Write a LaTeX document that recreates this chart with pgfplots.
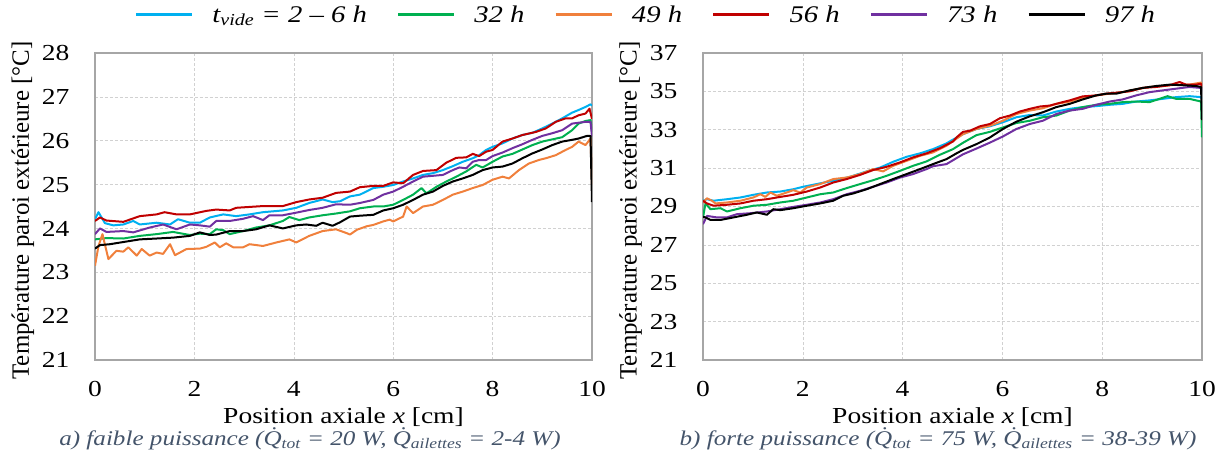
\documentclass[border=0pt]{standalone}
\usepackage{pgfplots}
\pgfplotsset{compat=1.18}
\usepackage{fontspec}
\setmainfont{Liberation Serif}
\newfontfamily\hfont{Liberation Serif}[FakeStretch=1.2]
\definecolor{cblue}{HTML}{00B0F0}
\definecolor{cgreen}{HTML}{00B050}
\definecolor{corange}{HTML}{F0803C}
\definecolor{cred}{HTML}{C00000}
\definecolor{cpurple}{HTML}{7030A0}
\definecolor{capt}{HTML}{44546A}
\definecolor{frame}{HTML}{A6A6A6}
\begin{document}
\begin{tikzpicture}
\useasboundingbox (0,0) rectangle (1221bp,463bp);
\pgfplotsset{
 myax/.style={
  scale only axis, height=307bp,
  xmin=0, xmax=10, xtick={0,2,...,10},
  grid=major, grid style={densely dashed, color=black!18, line width=0.6bp},
  axis line style={color=frame, line width=1.6bp},
  major tick length=0pt,
  tick label style={font=\hfont\fontsize{23}{26}\selectfont},
  /pgf/number format/assume math mode=true,
  xticklabel style={yshift=-18bp},
  yticklabel style={xshift=-22bp},
  xlabel={Position axiale \textit{x} [cm]},
  ylabel={Température paroi extérieure [°C]},
  xlabel style={font=\hfont\fontsize{23}{26}\selectfont, at={(axis description cs:0.5,0)}, anchor=center, yshift=-57bp},
  ylabel style={font=\fontsize{25}{28}\selectfont, at={(axis description cs:-0.145,0.487)}, anchor=center},
  every axis plot/.append style={line width=2bp, line join=round, mark=none},
 }
}
% ---------------- left panel ----------------
\begin{axis}[myax, width=497bp, at={(95bp,103bp)}, anchor=south west,
  ymin=21, ymax=28, ytick={21,22,...,28},
  legend columns=6,
  legend image code/.code={\draw[#1, line width=2.4bp] (0bp,0bp) -- (56bp,0bp);},
  legend style={at={(axis description cs:1.1066,1.125)}, anchor=center,
    draw=none, fill=none, inner sep=0pt,
    font=\hfont\fontsize{24}{28}\selectfont\itshape,
    nodes={inner sep=0pt},
    /tikz/every odd column/.append style={column sep=19bp},
    /tikz/every even column/.append style={column sep=30bp}},
]
\addplot[cblue] coordinates {(0,24.21)(0.07,24.37)(0.2,24.12)(0.37,24.07)(0.57,24.09)(0.77,24.17)(0.9,24.09)(1.24,24.13)(1.51,24.09)(1.67,24.21)(1.91,24.13)(2.11,24.13)(2.31,24.25)(2.58,24.32)(2.84,24.28)(3.11,24.32)(3.38,24.37)(3.78,24.41)(4.05,24.47)(4.31,24.58)(4.58,24.66)(4.78,24.60)(4.93,24.62)(5.13,24.73)(5.33,24.77)(5.6,24.92)(5.8,24.95)(6.0,24.99)(6.2,25.07)(6.4,25.14)(6.6,25.22)(6.8,25.26)(7.0,25.33)(7.2,25.42)(7.4,25.52)(7.6,25.60)(7.73,25.67)(7.87,25.79)(8.0,25.86)(8.2,25.94)(8.4,26.05)(8.6,26.13)(8.8,26.18)(9.0,26.28)(9.2,26.39)(9.4,26.51)(9.6,26.64)(9.73,26.70)(9.87,26.77)(9.97,26.83)(10,26.8)};
\addlegendentry{t\textsubscript{vide} = 2 – 6 h}
\addplot[cgreen] coordinates {(0,23.75)(0.23,23.78)(0.57,23.77)(0.90,23.83)(1.24,23.87)(1.57,23.92)(1.91,23.85)(2.11,23.88)(2.31,23.87)(2.44,23.98)(2.58,23.96)(2.71,23.87)(2.98,23.94)(3.24,24.02)(3.51,24.07)(3.78,24.17)(3.91,24.26)(4.11,24.19)(4.31,24.25)(4.58,24.30)(4.85,24.34)(5.13,24.39)(5.33,24.46)(5.6,24.50)(5.8,24.50)(6.0,24.54)(6.2,24.65)(6.4,24.77)(6.57,24.92)(6.67,24.80)(6.87,24.95)(7.07,25.07)(7.27,25.18)(7.47,25.30)(7.67,25.45)(7.8,25.39)(8.0,25.52)(8.2,25.64)(8.4,25.70)(8.6,25.80)(8.8,25.90)(9.0,25.98)(9.2,26.03)(9.4,26.08)(9.6,26.24)(9.73,26.39)(9.87,26.45)(9.97,26.47)(10,26.2)};
\addlegendentry{32 h}
\addplot[corange] coordinates {(0,23.15)(0.07,23.60)(0.15,23.87)(0.27,23.30)(0.43,23.49)(0.57,23.47)(0.67,23.57)(0.84,23.38)(0.94,23.53)(1.10,23.38)(1.24,23.45)(1.37,23.42)(1.51,23.64)(1.61,23.39)(1.84,23.53)(2.11,23.54)(2.24,23.58)(2.41,23.68)(2.51,23.57)(2.64,23.66)(2.78,23.57)(2.98,23.57)(3.11,23.64)(3.38,23.60)(3.65,23.68)(3.91,23.75)(4.05,23.68)(4.31,23.83)(4.58,23.94)(4.85,23.98)(5.07,23.89)(5.13,23.86)(5.27,23.97)(5.47,24.05)(5.6,24.08)(5.8,24.16)(5.93,24.20)(6.0,24.16)(6.2,24.27)(6.27,24.50)(6.4,24.35)(6.6,24.50)(6.8,24.54)(7.0,24.65)(7.2,24.77)(7.4,24.84)(7.6,24.92)(7.8,24.99)(8.0,25.11)(8.2,25.18)(8.33,25.14)(8.53,25.33)(8.73,25.48)(8.93,25.56)(9.07,25.60)(9.27,25.67)(9.47,25.79)(9.6,25.86)(9.73,25.98)(9.87,25.90)(9.97,26.05)(10,25.0)};
\addlegendentry{49 h}
\addplot[cred] coordinates {(0,24.17)(0.1,24.25)(0.23,24.18)(0.57,24.15)(0.9,24.28)(1.24,24.32)(1.4,24.37)(1.64,24.32)(1.91,24.32)(2.24,24.40)(2.44,24.43)(2.71,24.41)(2.84,24.47)(3.38,24.51)(3.78,24.51)(4.05,24.60)(4.31,24.66)(4.58,24.70)(4.85,24.81)(5.13,24.84)(5.33,24.94)(5.6,24.97)(5.8,24.97)(6.0,25.05)(6.2,25.03)(6.4,25.22)(6.6,25.31)(6.87,25.33)(7.07,25.5)(7.27,25.61)(7.47,25.62)(7.6,25.70)(7.73,25.65)(7.87,25.75)(8.0,25.79)(8.2,25.98)(8.4,26.05)(8.6,26.13)(8.87,26.20)(9.07,26.28)(9.27,26.43)(9.47,26.51)(9.6,26.51)(9.73,26.58)(9.87,26.62)(9.95,26.73)(10,26.5)};
\addlegendentry{56 h}
\addplot[cpurple] coordinates {(0,23.87)(0.1,24.0)(0.23,23.92)(0.57,23.94)(0.77,23.91)(1.10,24.02)(1.37,24.09)(1.64,23.98)(1.91,24.09)(2.11,24.07)(2.31,24.04)(2.44,24.17)(2.71,24.17)(2.98,24.22)(3.18,24.28)(3.38,24.19)(3.51,24.30)(3.78,24.30)(4.05,24.36)(4.31,24.42)(4.58,24.47)(4.85,24.55)(5.13,24.54)(5.33,24.58)(5.6,24.65)(5.8,24.77)(6.0,24.84)(6.2,24.95)(6.4,25.07)(6.6,25.18)(6.8,25.20)(7.0,25.22)(7.2,25.33)(7.33,25.39)(7.47,25.37)(7.6,25.52)(7.73,25.56)(7.87,25.56)(8.0,25.65)(8.2,25.73)(8.4,25.83)(8.6,25.92)(8.8,26.02)(9.0,26.11)(9.2,26.17)(9.4,26.24)(9.6,26.39)(9.73,26.41)(9.87,26.43)(9.97,26.43)(10,26.1)};
\addlegendentry{73 h}
\addplot[black] coordinates {(0,23.54)(0.1,23.62)(0.3,23.64)(0.57,23.69)(0.90,23.75)(1.24,23.77)(1.57,23.79)(1.91,23.83)(2.11,23.91)(2.31,23.85)(2.44,23.86)(2.71,23.94)(2.98,23.94)(3.24,23.98)(3.51,24.07)(3.78,24.0)(4.05,24.07)(4.25,24.09)(4.45,24.06)(4.58,24.13)(4.78,24.06)(4.93,24.14)(5.13,24.27)(5.33,24.29)(5.6,24.31)(5.8,24.41)(6.0,24.46)(6.2,24.54)(6.4,24.65)(6.6,24.77)(6.8,24.84)(7.0,24.97)(7.2,25.07)(7.4,25.14)(7.6,25.22)(7.8,25.33)(8.0,25.39)(8.2,25.41)(8.4,25.48)(8.6,25.60)(8.8,25.71)(9.0,25.80)(9.2,25.90)(9.4,25.98)(9.6,26.02)(9.73,26.05)(9.9,26.11)(9.97,26.11)(10,24.6)};
\addlegendentry{97 h}
\end{axis}
% ---------------- right panel ----------------
\begin{axis}[myax, width=499bp, at={(703bp,103bp)}, anchor=south west,
  ymin=21, ymax=37, ytick={21,23,...,37}]
\addplot[cblue] coordinates {(0,29.30)(0.08,29.38)(0.21,29.30)(0.48,29.38)(0.75,29.47)(1.01,29.61)(1.28,29.73)(1.55,29.78)(1.81,29.90)(2.01,30.03)(2.28,30.17)(2.61,30.34)(2.95,30.55)(3.28,30.83)(3.55,31.03)(3.81,31.33)(4.08,31.59)(4.35,31.77)(4.61,31.99)(4.88,32.29)(4.95,32.40)(5.21,32.77)(5.48,33.04)(5.75,33.18)(6.01,33.39)(6.28,33.65)(6.55,33.77)(6.81,33.74)(7.08,33.95)(7.35,34.09)(7.61,34.18)(7.88,34.23)(8.15,34.30)(8.41,34.35)(8.68,34.47)(8.95,34.53)(9.21,34.61)(9.48,34.70)(9.75,34.75)(9.98,34.70)(10,34.6)};
\addplot[cgreen] coordinates {(0,28.43)(0.05,29.16)(0.15,28.86)(0.35,28.91)(0.48,28.74)(0.75,28.91)(1.01,29.04)(1.28,29.09)(1.55,29.21)(1.81,29.30)(2.08,29.47)(2.35,29.64)(2.61,29.73)(2.88,29.96)(3.15,30.17)(3.41,30.37)(3.68,30.60)(3.95,30.86)(4.21,31.12)(4.48,31.35)(4.75,31.70)(5.01,31.99)(5.21,32.32)(5.48,32.72)(5.75,32.89)(6.01,33.12)(6.28,33.35)(6.55,33.47)(6.81,33.65)(7.08,33.74)(7.35,34.0)(7.61,34.18)(7.88,34.30)(8.15,34.35)(8.41,34.44)(8.68,34.47)(8.95,34.44)(9.15,34.61)(9.31,34.75)(9.48,34.61)(9.75,34.61)(9.98,34.47)(10,32.6)};
\addplot[corange] coordinates {(0,29.21)(0.08,29.43)(0.18,29.30)(0.25,29.16)(0.48,29.21)(0.75,29.30)(1.01,29.47)(1.15,29.64)(1.25,29.50)(1.35,29.73)(1.48,29.56)(1.68,29.73)(1.81,29.85)(1.95,29.73)(2.08,29.99)(2.35,30.17)(2.61,30.43)(2.88,30.51)(3.15,30.69)(3.41,30.95)(3.61,30.83)(3.81,31.12)(4.08,31.38)(4.35,31.64)(4.61,31.82)(4.88,32.17)(5.21,32.77)(5.48,33.04)(5.75,33.21)(6.01,33.47)(6.28,33.82)(6.55,34.0)(6.81,34.12)(7.08,34.35)(7.35,34.47)(7.61,34.65)(7.88,34.79)(8.15,34.88)(8.41,34.96)(8.68,35.11)(8.95,35.23)(9.21,35.28)(9.48,35.35)(9.75,35.35)(9.98,35.46)(10,35.3)};
\addplot[cred] coordinates {(0,29.30)(0.08,29.16)(0.21,29.04)(0.48,29.09)(0.75,29.16)(1.01,29.30)(1.28,29.38)(1.55,29.50)(1.81,29.61)(2.08,29.78)(2.35,29.99)(2.61,30.25)(2.88,30.43)(3.15,30.65)(3.41,30.90)(3.68,31.07)(3.95,31.30)(4.21,31.56)(4.48,31.77)(4.75,32.04)(5.01,32.39)(5.08,32.60)(5.21,32.89)(5.35,32.95)(5.55,33.18)(5.75,33.30)(5.95,33.60)(6.15,33.74)(6.35,33.95)(6.55,34.09)(6.75,34.21)(6.95,34.26)(7.15,34.40)(7.35,34.53)(7.61,34.74)(7.88,34.79)(8.08,34.88)(8.28,34.93)(8.55,35.0)(8.81,35.18)(9.08,35.23)(9.35,35.32)(9.55,35.49)(9.68,35.35)(9.88,35.35)(9.98,35.40)(10,35.2)};
\addplot[cpurple] coordinates {(0,28.08)(0.08,28.51)(0.28,28.43)(0.48,28.43)(0.68,28.60)(0.95,28.65)(1.28,28.74)(1.55,28.86)(1.81,28.98)(2.08,29.09)(2.35,29.21)(2.61,29.38)(2.88,29.64)(3.15,29.82)(3.41,30.03)(3.68,30.25)(3.95,30.51)(4.21,30.69)(4.48,30.95)(4.61,31.10)(4.88,31.21)(5.21,31.72)(5.48,32.02)(5.75,32.33)(6.01,32.65)(6.28,33.04)(6.55,33.30)(6.81,33.47)(7.08,33.82)(7.35,34.0)(7.61,34.09)(7.88,34.30)(8.15,34.47)(8.41,34.58)(8.68,34.79)(8.95,34.96)(9.21,35.05)(9.48,35.14)(9.75,35.23)(9.98,35.18)(10,35.0)};
\addplot[black] coordinates {(0,28.46)(0.05,28.43)(0.15,28.30)(0.35,28.30)(0.61,28.43)(0.88,28.57)(1.08,28.69)(1.28,28.57)(1.41,28.86)(1.55,28.81)(1.81,28.91)(2.08,29.04)(2.35,29.16)(2.61,29.30)(2.81,29.56)(3.01,29.68)(3.28,29.90)(3.55,30.17)(3.81,30.43)(4.08,30.69)(4.35,30.95)(4.61,31.21)(4.88,31.47)(5.08,31.77)(5.21,31.95)(5.48,32.25)(5.75,32.60)(6.01,33.04)(6.28,33.42)(6.55,33.70)(6.81,33.91)(7.08,34.18)(7.35,34.35)(7.61,34.58)(7.88,34.79)(8.08,34.88)(8.28,34.88)(8.55,35.05)(8.81,35.18)(9.08,35.28)(9.35,35.35)(9.61,35.32)(9.88,35.28)(9.98,35.23)(10,33.5)};
\end{axis}
% ---------------- captions ----------------
\node[font=\hfont\fontsize{21}{24}\selectfont\itshape, text=capt] at (310bp,24bp)
  {a) faible puissance (\.{Q}\textsubscript{tot} = 20 W, \.{Q}\textsubscript{ailettes} = 2-4 W)};
\node[font=\hfont\fontsize{21}{24}\selectfont\itshape, text=capt] at (938bp,24bp)
  {b) forte puissance (\.{Q}\textsubscript{tot} = 75 W, \.{Q}\textsubscript{ailettes} = 38-39 W)};
\end{tikzpicture}
\end{document}
